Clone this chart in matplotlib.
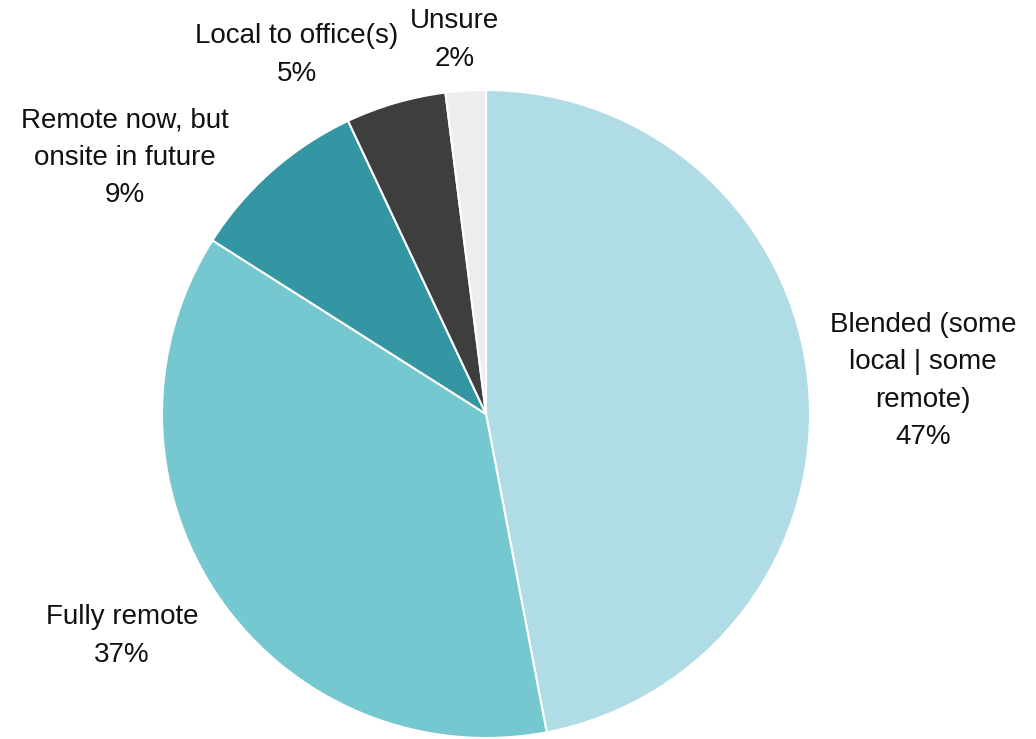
import matplotlib.pyplot as plt

# Respuestas por modalidad de trabajo
categorias = ["Blended (some\nlocal | some\nremote)", "Fully remote",
              "Remote now, but\nonsite in future", "Local to office(s)", "Unsure"]
porcentajes = [47, 37, 9, 5, 2]
colores = ["#B0DCE5", "#76C8D0", "#3496A3", "#3E3E3E", "#EDEDED"]

# Posición (px) del centro de cada etiqueta
pos_etiquetas = [(923, 381), (122, 636), (125, 158), (297, 55), (455, 40)]

plt.rcParams['font.family'] = ['Liberation Sans', 'DejaVu Sans']

fig = plt.figure(figsize=(10.36, 7.39), dpi=100)
ax = fig.add_axes([0, 0, 1, 1])

ax.pie(porcentajes, colors=colores, startangle=90, counterclock=False,
       center=(486, 739 - 414), radius=324, frame=True,
       wedgeprops=dict(edgecolor='white', linewidth=1.5))
ax.set_xlim(0, 1036)
ax.set_ylim(0, 739)
ax.axis('off')

for cat, pct, (x, y) in zip(categorias, porcentajes, pos_etiquetas):
    ax.text(x, 739 - y, f"{cat}\n{pct}%", ha='center', va='center',
            fontsize=20, color='#111111', linespacing=1.56)

fig.savefig("out.png", dpi=100)
